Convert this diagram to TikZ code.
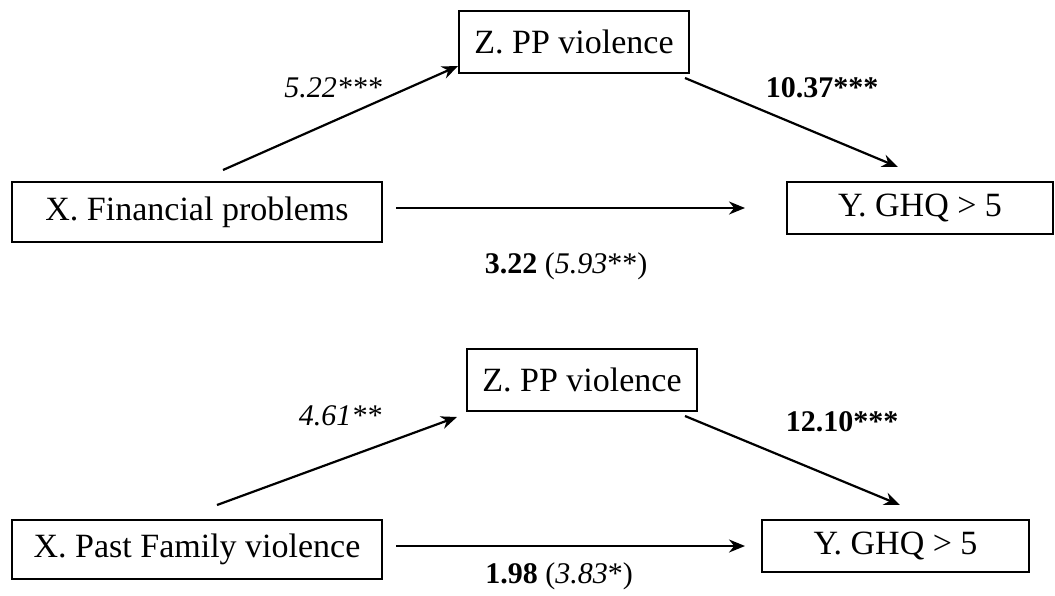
\documentclass[tikz,border=0pt]{standalone}
\usepackage{fontspec}
\setmainfont{Liberation Serif}
\usetikzlibrary{arrows.meta}

\tikzset{
  varbox/.style = {draw, line width = 0.8pt, inner sep = 0pt, font = \fontsize{17}{20}\selectfont},
  path/.style = {line width = 1.1pt, -{Stealth[length = 8pt, width = 6.5pt]}},
  coef/.style = {font = \fontsize{15}{18}\selectfont}
}

\begin{document}
\begin{tikzpicture}[x = 0.5pt, y = -0.5pt]

\useasboundingbox (0, 0) rectangle (1055, 595);

% upper model
\node [varbox, minimum width = 185pt, minimum height = 30pt] (xtop) at (197, 212) {X. Financial problems};
\node [varbox, minimum width = 115pt, minimum height = 31pt] (ztop) at (574, 42) {Z. PP violence};
\node [varbox, minimum width = 133pt, minimum height = 26pt] (ytop) at (920, 208) {Y. GHQ \textgreater{} 5};
\coordinate (a1s) at (223, 170); \coordinate (a1e) at (458, 66);
\coordinate (b1s) at (685, 78);  \coordinate (b1e) at (898, 167);
\coordinate (c1s) at (396, 208); \coordinate (c1e) at (745, 208);
\draw [path] (a1s) -- (a1e);
\draw [path] (b1s) -- (b1e);
\draw [path] (c1s) -- (c1e);
\node [coef] (atop) at (333, 88) {\textit{5.22***}};
\node [coef] (btop) at (822, 88) {\textbf{10.37***}};
\node [coef] (ctop) at (566, 266) {\textbf{3.22} (\textit{5.93}**)};

% lower model
\node [varbox, minimum width = 185pt, minimum height = 29.5pt] (xbot) at (197, 549.5) {X. Past Family violence};
\node [varbox, minimum width = 115pt, minimum height = 31pt] (zbot) at (582, 380) {Z. PP violence};
\node [varbox, minimum width = 133.5pt, minimum height = 26pt] (ybot) at (895.5, 546) {Y. GHQ \textgreater{} 5};
\coordinate (a2s) at (217, 505); \coordinate (a2e) at (457, 417);
\coordinate (b2s) at (685, 416); \coordinate (b2e) at (900, 505);
\coordinate (c2s) at (396, 546); \coordinate (c2e) at (745, 546);
\draw [path] (a2s) -- (a2e);
\draw [path] (b2s) -- (b2e);
\draw [path] (c2s) -- (c2e);
\node [coef] (abot) at (340, 416) {\textit{4.61**}};
\node [coef] (bbot) at (842, 422) {\textbf{12.10***}};
\node [coef] (cbot) at (559, 576) {\textbf{1.98} (\textit{3.83}*)};

\end{tikzpicture}
\end{document}
